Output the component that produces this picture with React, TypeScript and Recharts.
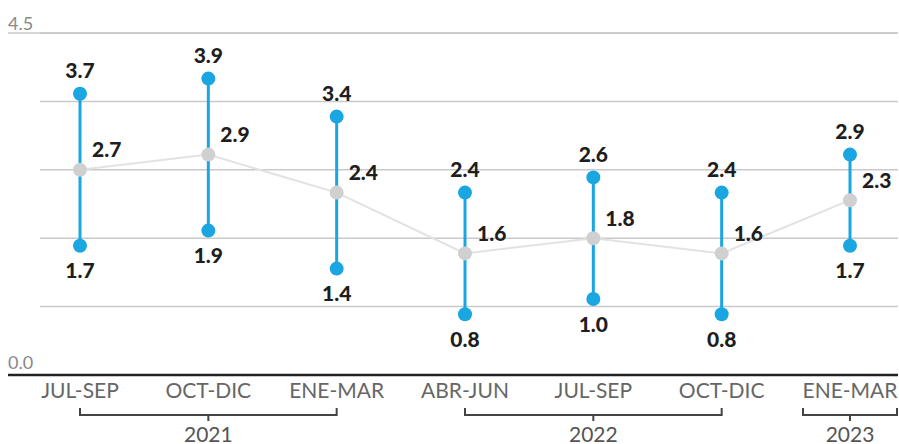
import React from "react";
import { ComposedChart, Line, XAxis, YAxis, CartesianGrid, ErrorBar } from "recharts";

const quarters = ["JUL-SEP", "OCT-DIC", "ENE-MAR", "ABR-JUN", "JUL-SEP", "OCT-DIC", "ENE-MAR"];
const years = ["2021", "2021", "2021", "2022", "2022", "2022", "2023"];
const high = [3.7, 3.9, 3.4, 2.4, 2.6, 2.4, 2.9];
const mid = [2.7, 2.9, 2.4, 1.6, 1.8, 1.6, 2.3];
const low = [1.7, 1.9, 1.4, 0.8, 1.0, 0.8, 1.7];
const yTicks = [0, 0.9, 1.8, 2.7, 3.6, 4.5];

const data = quarters.map((q, i) => ({
  key: `${q} ${i}`,
  quarter: q,
  year: years[i],
  high: high[i],
  mid: mid[i],
  low: low[i],
  err: [mid[i] - low[i], high[i] - mid[i]],
}));

const BLUE = "#1aa6e0";
const FONT = "Lato, 'Open Sans', sans-serif";

// x position of each rendered tick, so the year bracket can span its group
const tickXs: number[] = [];

function QuarterTick(props: any) {
  const { x, y, payload, index } = props;
  tickXs[index] = x;
  const yr = years[index];
  const isLast = index === years.length - 1 || years[index + 1] !== yr;
  let bracket = null;
  if (isLast) {
    const first = years.indexOf(yr);
    const x1 = first === index ? x - 47 : tickXs[first];
    const x2 = first === index ? x + 47 : x;
    const c = (x1 + x2) / 2;
    bracket = (
      <g>
        <path
          d={`M${x1},${y + 25} V${y + 32} H${x2} V${y + 25} M${c},${y + 32} V${y + 38}`}
          stroke="#444"
          strokeWidth={2}
          fill="none"
        />
        <text x={c} y={y + 50} textAnchor="middle" dominantBaseline="central" fontFamily={FONT} fontSize={21} fill="#555">
          {yr}
        </text>
      </g>
    );
  }
  return (
    <g>
      <text x={x} y={y + 6} textAnchor="middle" dominantBaseline="central" fontFamily={FONT} fontSize={21} fill="#666">
        {data[index] ? data[index].quarter : payload.value}
      </text>
      {bracket}
    </g>
  );
}

function ValueTick(props: any) {
  const { y, payload } = props;
  const v = Number(payload.value);
  if (v === 0) {
    return (
      <g>
        <line x1={8} x2={898} y1={y} y2={y} stroke="#222" strokeWidth={2.5} />
        <text x={8} y={y - 13} dominantBaseline="central" fontFamily={FONT} fontSize={18} fill="#888">
          0.0
        </text>
      </g>
    );
  }
  if (v === 4.5) {
    return (
      <g>
        <line x1={8} x2={898} y1={y} y2={y} stroke="#c9c9c9" strokeWidth={1.5} />
        <text x={8} y={y - 10} dominantBaseline="central" fontFamily={FONT} fontSize={18} fill="#888">
          4.5
        </text>
      </g>
    );
  }
  return <g />;
}

const valueLabel = (dx: number, dy: number, anchor: string) => (p: any) => (
  <text
    x={p.x + dx}
    y={p.y + dy}
    textAnchor={anchor}
    dominantBaseline="central"
    fontFamily={FONT}
    fontWeight={900}
    fontSize={21}
    fill="#1e1e1e"
  >
    {Number(p.value).toFixed(1)}
  </text>
);

export default function App() {
  return (
    <div style={{ position: "absolute", left: 0, top: 0, width: 899, height: 444, background: "#fff" }}>
      <ComposedChart width={899} height={444} data={data} margin={{ top: 33, right: 1, bottom: 0, left: 30 }}>
        <CartesianGrid vertical={false} stroke="#c9c9c9" strokeWidth={1.5} />
        <XAxis
          dataKey="key"
          height={69}
          axisLine={false}
          tickLine={false}
          interval={0}
          padding={{ left: 40, right: 48 }}
          tick={<QuarterTick />}
        />
        <YAxis
          domain={[0, 4.5]}
          ticks={yTicks}
          interval={0}
          width={10}
          axisLine={false}
          tickLine={false}
          tick={<ValueTick />}
        />
        <Line
          dataKey="mid"
          stroke="#e2e2e2"
          strokeWidth={2}
          dot={{ r: 7, fill: "#d0d0d0", stroke: "none" }}
          activeDot={false}
          isAnimationActive={false}
          label={valueLabel(12, -21, "start")}
        >
          <ErrorBar dataKey="err" direction="y" width={0} stroke={BLUE} strokeWidth={3} />
        </Line>
        <Line
          dataKey="high"
          stroke="none"
          dot={{ r: 7, fill: BLUE, stroke: "none" }}
          activeDot={false}
          isAnimationActive={false}
          label={valueLabel(0, -24, "middle")}
        />
        <Line
          dataKey="low"
          stroke="none"
          dot={{ r: 7, fill: BLUE, stroke: "none" }}
          activeDot={false}
          isAnimationActive={false}
          label={valueLabel(0, 24, "middle")}
        />
      </ComposedChart>
    </div>
  );
}
